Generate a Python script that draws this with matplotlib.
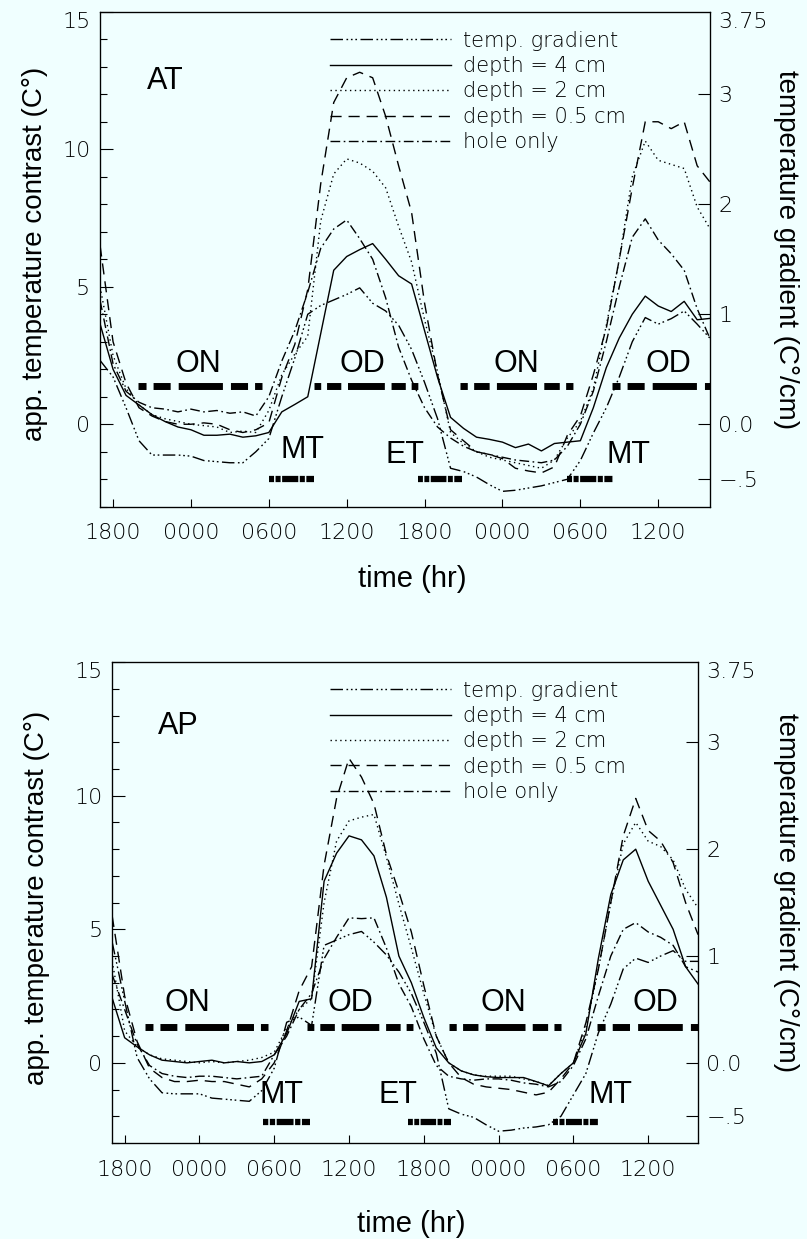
import matplotlib.pyplot as plt
from matplotlib.lines import Line2D

plt.rcParams['lines.scale_dashes'] = False
plt.rcParams['font.family'] = 'DejaVu Sans'
plt.rcParams['font.weight'] = 'light'

BG = '#f0ffff'
LABEL_FONT = 'Liberation Sans'

# hourly time axis: 17 = 1700 on day 1, 24 = midnight, ...
hours = list(range(17, 65))
time_ticks = [18, 24, 30, 36, 42, 48, 54, 60]
time_labels = ['1800', '0000', '0600', '1200', '1800', '0000', '0600', '1200']

# ---------------- panel AT ----------------
at_depth4 = [3.65, 2.0, 1.05, 0.7, 0.35, 0.1, -0.1, -0.2, -0.4, -0.4, -0.36, -0.47,
             -0.42, -0.3, 0.45, 0.72, 1.0, 3.3, 5.6, 6.1, 6.35, 6.57, 6.0, 5.4,
             5.1, 3.4, 1.7, 0.25, -0.15, -0.47, -0.55, -0.65, -0.85, -0.72, -0.97, -0.7,
             -0.65, -0.6, 0.6, 2.06, 3.14, 4.0, 4.66, 4.3, 4.1, 4.47, 3.8, 3.85]
at_depth2 = [5.0, 2.5, 1.3, 0.7, 0.35, 0.2, 0.1, 0.0, -0.05, -0.1, -0.3, -0.25,
             -0.3, 0.5, 1.8, 2.55, 3.2, 7.4, 9.1, 9.65, 9.5, 9.2, 8.6, 7.2,
             5.9, 3.8, 1.9, -0.3, -0.7, -1.0, -1.2, -1.3, -1.4, -1.5, -1.6, -1.3,
             -0.5, 0.1, 1.3, 3.6, 6.0, 9.0, 10.3, 9.6, 9.45, 9.3, 7.9, 7.1]
at_depth05 = [6.5, 3.0, 1.5, 0.6, 0.3, 0.1, 0.0, 0.0, 0.05, 0.0, -0.2, -0.3,
              -0.2, 0.05, 1.7, 2.9, 4.9, 8.75, 11.7, 12.6, 12.8, 12.6, 11.2, 9.4,
              7.7, 4.4, 1.8, -0.2, -0.6, -1.0, -1.1, -1.25, -1.6, -1.7, -1.77, -1.55,
              -0.4, 0.3, 1.8, 3.5, 6.0, 8.6, 11.0, 11.0, 10.75, 11.0, 9.4, 8.8]
at_hole = [4.5, 2.2, 1.2, 0.8, 0.6, 0.55, 0.45, 0.55, 0.45, 0.5, 0.4, 0.45,
           0.3, 1.0, 2.3, 3.4, 4.8, 6.4, 7.1, 7.43, 6.75, 6.0, 4.6, 2.8,
           1.6, 0.6, -0.1, -0.5, -0.8, -1.0, -1.1, -1.2, -1.3, -1.35, -1.4, -1.3,
           -0.8, 0.0, 1.2, 3.0, 5.0, 6.8, 7.47, 6.7, 6.2, 5.6, 4.2, 3.1]
# temperature gradient (C°/cm), right axis
at_grad = [0.58, 0.43, 0.15, -0.15, -0.28, -0.28, -0.28, -0.29, -0.33, -0.34, -0.35, -0.35,
           -0.25, -0.13, 0.25, 0.6, 1.0, 1.08, 1.13, 1.18, 1.24, 1.1, 1.03, 0.9,
           0.68, 0.38, 0.05, -0.4, -0.43, -0.48, -0.55, -0.61, -0.6, -0.58, -0.56, -0.53,
           -0.5, -0.33, -0.08, 0.15, 0.43, 0.75, 0.97, 0.91, 0.96, 1.03, 0.91, 0.78]

# ---------------- panel AP ----------------
ap_depth4 = [2.43, 0.94, 0.6, 0.3, 0.1, 0.05, 0.0, 0.05, 0.1, 0.0, 0.05, 0.0,
             0.05, 0.3, 1.1, 2.3, 2.4, 6.8, 7.85, 8.5, 8.35, 7.75, 6.2, 4.0,
             3.0, 1.7, 0.56, 0.0, -0.3, -0.45, -0.52, -0.55, -0.55, -0.55, -0.7, -0.86,
             -0.4, 0.0, 1.1, 3.9, 6.3, 7.6, 8.0, 6.8, 5.9, 5.0, 3.6, 2.95]
ap_depth2 = [3.8, 1.2, 0.6, 0.3, 0.15, 0.1, 0.05, 0.0, 0.05, 0.0, 0.05, 0.1,
             0.2, 0.4, 1.3, 2.0, 2.4, 6.0, 8.3, 9.06, 9.2, 9.3, 7.7, 5.95,
             4.3, 2.6, 1.0, 0.0, -0.3, -0.45, -0.5, -0.5, -0.5, -0.6, -0.7, -0.85,
             -0.4, 0.0, 1.3, 3.5, 6.0, 8.2, 9.0, 8.3, 8.1, 7.6, 6.5, 5.8]
ap_depth05 = [5.5, 2.5, 0.8, -0.2, -0.55, -0.7, -0.7, -0.65, -0.7, -0.7, -0.8, -0.9,
              -0.6, 0.0, 1.2, 2.7, 3.6, 7.4, 9.9, 11.4, 10.7, 9.7, 7.8, 6.4,
              4.9, 2.9, 1.0, 0.0, -0.55, -0.8, -0.9, -0.95, -1.0, -1.1, -1.2, -1.1,
              -0.6, 0.0, 1.5, 3.5, 6.0, 8.5, 9.9, 8.7, 8.3, 7.5, 6.0, 4.8]
ap_hole = [3.3, 2.0, 0.7, -0.1, -0.4, -0.5, -0.55, -0.5, -0.5, -0.55, -0.6, -0.55,
           -0.5, 0.3, 1.0, 2.0, 2.6, 3.9, 4.7, 5.43, 5.4, 5.43, 4.3, 2.96,
           2.1, 0.9, -0.1, -0.5, -0.6, -0.65, -0.6, -0.6, -0.65, -0.75, -0.8, -0.9,
           -0.7, -0.1, 0.9, 2.5, 4.0, 5.0, 5.25, 4.9, 4.7, 4.4, 3.6, 3.4]
ap_grad = [1.13, 0.58, 0.05, -0.15, -0.28, -0.29, -0.29, -0.29, -0.33, -0.34, -0.35, -0.36,
           -0.26, -0.05, 0.38, 0.43, 0.35, 1.1, 1.15, 1.2, 1.23, 1.13, 1.01, 0.85,
           0.65, 0.38, 0.09, -0.43, -0.48, -0.51, -0.58, -0.64, -0.63, -0.61, -0.6, -0.58,
           -0.5, -0.3, -0.1, 0.28, 0.55, 0.88, 0.98, 0.94, 1.0, 1.05, 0.95, 0.95]

# activity periods (hours) and their labels
at_on = [(19.9, 29.5), (44.7, 53.4)]
at_od = [(33.5, 41.5), (56.4, 66.0)]
at_trans = [(30.0, 33.5), (41.5, 44.9), (53.0, 56.5)]
at_period_labels = [('ON', 24.6, 2.2), ('OD', 37.2, 2.2), ('ON', 49.1, 2.2), ('OD', 60.8, 2.2),
                    ('MT', 32.6, -0.95), ('ET', 40.5, -1.1), ('MT', 57.7, -1.1)]

ap_on = [(19.6, 29.5), (44.0, 53.0)]
ap_od = [(32.6, 41.1), (55.9, 66.0)]
ap_trans = [(29.1, 32.9), (40.7, 44.2), (52.4, 56.0)]
ap_period_labels = [('ON', 23.0, 2.25), ('OD', 36.1, 2.25), ('ON', 48.4, 2.25), ('OD', 60.6, 2.25),
                    ('MT', 30.6, -1.2), ('ET', 39.9, -1.2), ('MT', 57.0, -1.2)]

legend_labels = ['temp. gradient', 'depth = 4 cm', 'depth = 2 cm', 'depth = 0.5 cm', 'hole only']

# line styles (dash lengths in points)
GRAD_LS = (0, (9, 2.5, 1.2, 2, 1.2, 2, 1.2, 2.5))
D4_LS = '-'
D2_LS = (0, (1, 2.5))
D05_LS = (0, (8, 5))
HOLE_LS = (0, (7, 2.5, 1.2, 2.5))

# bar dash patterns (fractions of bar length)
MAIN_BAR = [8, 7, 17, 8, 44, 8, 17, 7, 8, 60]
TRANS_BAR = [5, 1.5, 5, 1.5, 16, 1.5, 5, 1.5, 8, 40]


def period_bar(ax, start, end, y, lw, pattern):
    x0 = ax.transData.transform((start, y))[0]
    x1 = ax.transData.transform((end, y))[0]
    length_pt = (x1 - x0) * 72.0 / ax.figure.dpi
    total = sum(pattern[:-1])
    dashes = [p / total * length_pt for p in pattern]
    ax.plot([start, end], [y, y], color='black', lw=lw, dashes=dashes,
            dash_capstyle='butt', solid_capstyle='butt')


def draw_panel(fig, rect, name, name_xy, d4, d2, d05, hole, grad,
               on, od, trans, plabels, bar_y, trans_y,
               legend_anchor, ylab_x, yrlab_x, xlab_y):
    ax = fig.add_axes(rect)
    ax.set_facecolor(BG)
    ax.set_xlim(17, 64)
    ax.set_ylim(-3, 15)

    lw = 1.0
    ax.plot(hours, d4, color='black', lw=lw, linestyle=D4_LS)
    ax.plot(hours, d2, color='black', lw=lw, linestyle=D2_LS)
    ax.plot(hours, d05, color='black', lw=lw, linestyle=D05_LS)
    ax.plot(hours, hole, color='black', lw=lw, linestyle=HOLE_LS)

    ax2 = ax.twinx()
    ax2.set_ylim(-0.75, 3.75)
    ax2.plot(hours, grad, color='black', lw=lw, linestyle=GRAD_LS)

    # activity bars
    for s, e in on + od:
        period_bar(ax, s, e, bar_y, 5.0, MAIN_BAR)
    for s, e in trans:
        period_bar(ax, s, e, trans_y, 4.5, TRANS_BAR)
    for txt, x, y in plabels:
        ax.text(x, y, txt, ha='center', va='center', fontsize=22, family=LABEL_FONT,
                weight='normal')
    ax.text(name_xy[0], name_xy[1], name, ha='center', va='center', fontsize=22,
            family=LABEL_FONT, weight='normal')

    # axes and ticks
    for sp in ax.spines.values():
        sp.set_linewidth(0.9)
    ax.set_xticks(time_ticks)
    ax.set_xticklabels(time_labels)
    ax.set_yticks([0, 5, 10, 15])
    ax.set_yticks(range(-3, 16), minor=True)
    ax.tick_params(axis='x', direction='in', length=6, width=0.8, pad=12,
                   labelsize=16, top=False)
    ax.tick_params(axis='y', which='major', direction='in', length=9, width=0.8,
                   pad=7, labelsize=16)
    ax.tick_params(axis='y', which='minor', direction='in', length=5, width=0.8)
    ax.tick_params(axis='x', which='minor', bottom=False)
    ax.get_yticklabels()[-1].set_va('top')

    ax2.set_yticks([-0.5, 0, 1, 2, 3, 3.75])
    ax2.set_yticklabels(['\u2212.5', '0.0', '1', '2', '3', '3.75'])
    ax2.tick_params(axis='y', direction='in', length=9, width=0.8, pad=6, labelsize=16)
    ax2.get_yticklabels()[-1].set_va('top')
    ax2.yaxis.get_major_ticks()[-1].tick2line.set_visible(False)

    ax.set_xlabel('time (hr)', fontsize=21, family=LABEL_FONT, weight='normal')
    ax.xaxis.set_label_coords(0.511, xlab_y)
    ax.set_ylabel('app. temperature contrast (C\u00b0)', fontsize=20,
                  family=LABEL_FONT, weight='normal')
    ax.yaxis.set_label_coords(ylab_x, 0.51)
    ax2.set_ylabel('temperature gradient (C\u00b0/cm)', fontsize=20,
                   family=LABEL_FONT, weight='normal', rotation=-90)
    ax2.yaxis.set_label_coords(yrlab_x, 0.52)

    handles = [Line2D([], [], color='black', lw=lw, linestyle=GRAD_LS),
               Line2D([], [], color='black', lw=lw, linestyle=D4_LS),
               Line2D([], [], color='black', lw=lw, linestyle=D2_LS),
               Line2D([], [], color='black', lw=lw, linestyle=D05_LS),
               Line2D([], [], color='black', lw=lw, linestyle=HOLE_LS)]
    ax2.legend(handles, legend_labels, loc='upper left', bbox_to_anchor=legend_anchor,
               frameon=False, fontsize=15, handlelength=5.8, handletextpad=0.6,
               labelspacing=0.26, borderpad=0, borderaxespad=0)
    return ax, ax2


fig = plt.figure(figsize=(8.07, 12.39), dpi=100, facecolor=BG)

draw_panel(fig, [0.124, 0.591, 0.756, 0.3995], 'AT', (22.0, 12.5),
           at_depth4, at_depth2, at_depth05, at_hole, at_grad,
           at_on, at_od, at_trans, at_period_labels, 1.4, -2.0,
           (0.377, 0.962), -0.085, 1.146, -0.117)

draw_panel(fig, [0.139, 0.0775, 0.726, 0.388], 'AP', (22.3, 12.6),
           ap_depth4, ap_depth2, ap_depth05, ap_hole, ap_grad,
           ap_on, ap_od, ap_trans, ap_period_labels, 1.35, -2.2,
           (0.372, 0.962), -0.106, 1.172, -0.139)

fig.savefig('out.png', dpi=100, facecolor=BG)
